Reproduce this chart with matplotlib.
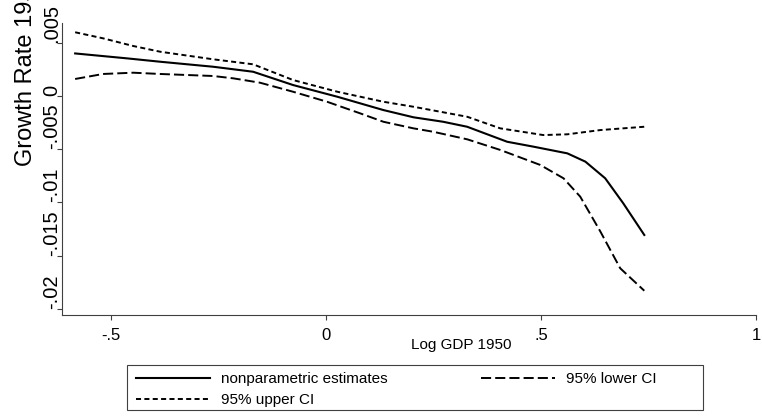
import matplotlib.pyplot as plt
from matplotlib.patches import Rectangle

plt.rcParams['font.family'] = ['Liberation Sans', 'DejaVu Sans']

# nonparametric estimate and 95% band
est_x = [-0.584, -0.464, -0.386, -0.263, -0.170, -0.077, 0.026, 0.133, 0.203,
         0.272, 0.328, 0.421, 0.482, 0.561, 0.603, 0.649, 0.691, 0.740]
est_y = [0.0040, 0.00354, 0.00322, 0.00275, 0.00228, 0.00103, -0.00007, -0.00132, -0.0020,
         -0.00242, -0.00289, -0.0043, -0.00476, -0.00539, -0.00617, -0.00773, -0.01008, -0.01306]

lower_x = [-0.584, -0.519, -0.449, -0.386, -0.263, -0.216, -0.154, -0.077, 0.002, 0.079, 0.133,
           0.203, 0.249, 0.328, 0.405, 0.498, 0.552, 0.591, 0.638, 0.684, 0.740]
lower_y = [0.0016, 0.00207, 0.00219, 0.00207, 0.00188, 0.00166, 0.00125, 0.0004, -0.00054, -0.00163,
           -0.00242, -0.00304, -0.00336, -0.00407, -0.00507, -0.00648, -0.00773, -0.00946, -0.01275,
           -0.01619, -0.0183]

upper_x = [-0.584, -0.519, -0.449, -0.386, -0.263, -0.170, -0.077, 0.026, 0.133, 0.203,
           0.328, 0.405, 0.505, 0.561, 0.638, 0.740]
upper_y = [0.00599, 0.00542, 0.0047, 0.00416, 0.00345, 0.00298, 0.0015, 0.0004, -0.00054, -0.00101,
           -0.00195, -0.00304, -0.00367, -0.0036, -0.0032, -0.00289]

x_ticks = [-0.5, 0, 0.5, 1]
x_labels = ['-.5', '0', '.5', '1']
y_ticks = [0.005, 0, -0.005, -0.01, -0.015, -0.02]
y_labels = ['.005', '0', '-.005', '-.01', '-.015', '-.02']

fig = plt.figure(figsize=(7.62, 4.16), dpi=100)
ax = fig.add_axes([0.0814, 0.2428, 0.9108, 0.7019])

l1, = ax.plot(est_x, est_y, color='black', lw=1.5, label='nonparametric estimates')
l2, = ax.plot(lower_x, lower_y, color='black', lw=1.4, dashes=(5.2, 2.1), label='95% lower CI')
l3, = ax.plot(upper_x, upper_y, color='black', lw=1.4, dashes=(2.6, 1.7), label='95% upper CI')

ax.set_xlim(-0.6145, 1.0)
ax.set_ylim(-0.02058, 0.00686)

for s in ['top', 'right']:
    ax.spines[s].set_visible(False)
for s in ['left', 'bottom']:
    ax.spines[s].set_color('#404040')
    ax.spines[s].set_linewidth(0.8)

ax.set_xticks(x_ticks, x_labels, fontsize=12)
ax.set_yticks(y_ticks, y_labels, fontsize=14.5, rotation=90, rotation_mode='anchor',
              ha='left', va='baseline')
ax.tick_params(axis='x', length=3.6, width=0.8, color='#404040', pad=6)
ax.tick_params(axis='y', length=3.6, width=0.8, color='#404040', pad=0)

ax.set_xlabel('Log GDP 1950', fontsize=11, va='baseline')
ax.xaxis.set_label_coords(0.575, -0.1164)
ax.set_ylabel('Growth Rate 1950-2000', fontsize=17, rotation=90, rotation_mode='anchor',
              ha='left', va='baseline')
ax.yaxis.set_label_coords(-0.0432, 0.510)

fig.legend([l1, l3, l2], ['nonparametric estimates', '95% upper CI', '95% lower CI'],
           ncol=2, loc='upper left', bbox_to_anchor=(136 / 762, 1 - 372 / 416),
           frameon=False, borderpad=0, borderaxespad=0, fontsize=11,
           handlelength=4.85, handletextpad=0.72, labelspacing=0.45, columnspacing=6.1)
fig.patches.append(Rectangle((127 / 762, 1 - 410 / 416), 576 / 762, 45 / 416,
                             transform=fig.transFigure, fill=False,
                             edgecolor='#404040', lw=0.8))

fig.savefig('out.png', dpi=100)
